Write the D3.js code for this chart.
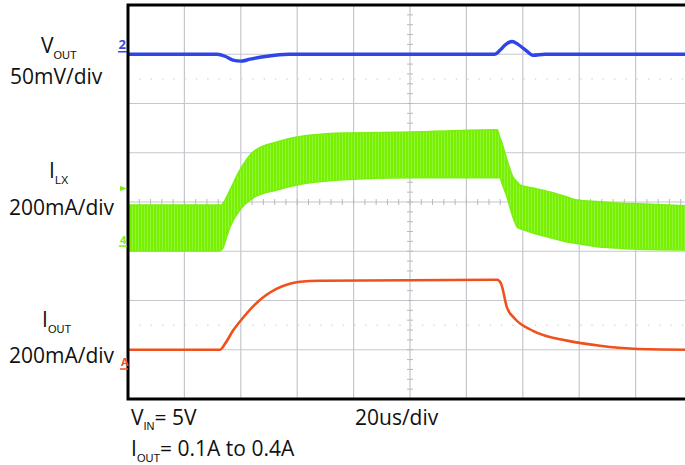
<!DOCTYPE html>
<html><head><meta charset="utf-8">
<script src="https://cdn.jsdelivr.net/npm/d3@7/dist/d3.min.js"></script>
<style>
html,body{margin:0;padding:0;background:#fff;}
svg{display:block;}
text{font-family:"Open Sans",sans-serif;fill:#111;}
</style></head>
<body>
<svg id="chart" width="685" height="465"></svg>
<script>
// ---- data (time in us, 20us/div) ----
const vOutT  = [-100,-68.4,-65.6,-62.8,-59.9,-56.7,-53.2,-47.9,-42.6,30.1,31.9,34,36.2,38.3,41.1,43.6,47.9,100];
const vOutMv = [0,0,-2,-6,-7,-5,-3,-1,0,0,4,10,13,10,4,-1,0,0];           // deviation, 50mV/div

const lxTopT  = [-100,-66.7,-65.6,-60.3,-55.7,-47.2,-40.1,-23.8,0,30.9,32.6,34.4,36.5,39,43.6,49.6,59.2,73.4,100];
const lxTopMa = [134,134,154,276,349,390,410,426,430,439,386,317,248,215,203,187,154,142,130];
const lxBotT  = [-100,-67.4,-66.3,-63.8,-60.3,-55.7,-47.2,-40.1,-23.8,0,31.9,34.4,36.5,38.3,43.6,55.7,67.4,79.1,100];
const lxBotMa = [-53,-53,-41,45,114,162,195,215,236,244,244,166,85,41,20,-16,-37,-45,-49];   // 200mA/div

const iOutT  = [-100,-67.4,-65.6,-62.8,-59.2,-54.3,-47.2,-42.6,-39,-31.9,30.9,32.3,34.4,37.2,43.6,55.7,67.4,79.1,100];
const iOutMa = [100,100,124,177,230,291,348,368,376,380,384,368,271,226,177,137,116,104,100]; // 200mA/div

const timeDivs = [-100,-80,-60,-40,-20,0,20,40,60,80,100];
const ampDivs  = [-4,-3,-2,-1,0,1,2,3,4];

// channel offsets (divisions)
const vOutOffset = 3, lxOffset = -0.73, iOutOffset = -3.5;

const svg = d3.select("#chart");
const x = d3.scaleLinear().domain([-100,100]).range([128,692]);
const y = d3.scaleLinear().domain([-4,4]).range([399,5]);

// grid
const g = svg.append("g");
g.selectAll(".vg").data(timeDivs.slice(1,-1)).join("line")
  .attr("x1",d=>x(d)).attr("x2",d=>x(d)).attr("y1",y(4)).attr("y2",y(-4))
  .attr("stroke","#c6c6cc").attr("stroke-width",1.2);
g.selectAll(".hg").data(ampDivs.slice(1,-1)).join("line")
  .attr("x1",x(-100)).attr("x2",x(100)).attr("y1",d=>y(d)).attr("y2",d=>y(d))
  .attr("stroke","#c6c6cc").attr("stroke-width",1.2);
// dotted half lines
[2.5,-2.5].forEach(v=>{
  g.append("line").attr("x1",x(-100)).attr("x2",x(100)).attr("y1",y(v)).attr("y2",y(v))
   .attr("stroke","#dcdce0").attr("stroke-width",1.5).attr("stroke-dasharray","1.5,9.8");
});
// center minor ticks
const minorT = d3.range(-100,100.01,4);
g.selectAll(".mt").data(minorT).join("line")
  .attr("x1",d=>x(d)).attr("x2",d=>x(d)).attr("y1",y(0)-3).attr("y2",y(0)+3)
  .attr("stroke","#b8b8c0").attr("stroke-width",1);
const minorV = d3.range(-4,4.01,0.2);
g.selectAll(".mv").data(minorV).join("line")
  .attr("y1",d=>y(d)).attr("y2",d=>y(d)).attr("x1",x(0)-3).attr("x2",x(0)+3)
  .attr("stroke","#b8b8c0").attr("stroke-width",1);

// I_LX band
const defs = svg.append("defs");
const pat = defs.append("pattern").attr("id","sw").attr("patternUnits","userSpaceOnUse")
  .attr("width",3).attr("height",6);
pat.append("rect").attr("width",3).attr("height",6).attr("fill","#78f000");
pat.append("rect").attr("width",1).attr("height",6).attr("fill","#8ef53a");

const lxBot = d3.scaleLinear().domain(lxBotT).range(lxBotMa);
const topS = d3.scaleLinear().domain(lxTopT).range(lxTopMa);
const lxArea = d3.area().x(d=>x(d.t))
  .y0(d=>y(lxOffset + lxBot(d.t)/200)).y1(d=>y(lxOffset + d.v/200))
  .curve(d3.curveMonotoneX);
const allT = Array.from(new Set(lxTopT.concat(lxBotT))).sort((a,b)=>a-b);
svg.append("path").datum(allT.map(t=>({t, v:topS(t)})))
  .attr("d",lxArea).attr("fill","url(#sw)").attr("stroke","#7af010").attr("stroke-width",1.5);

// V_OUT trace
const line = d3.line().curve(d3.curveMonotoneX);
svg.append("path").datum(vOutT.map((t,i)=>[x(t), y(vOutOffset + vOutMv[i]/50)]))
  .attr("d",line).attr("fill","none").attr("stroke","#2f45e8").attr("stroke-width",3.4);

// I_OUT trace
svg.append("path").datum(iOutT.map((t,i)=>[x(t), y(iOutOffset + iOutMa[i]/200)]))
  .attr("d",line).attr("fill","none").attr("stroke","#f0501c").attr("stroke-width",2.6);

// border
svg.append("path").attr("d",`M${x(100)+5},${y(4)} H${x(-100)} V${y(-4)} H${x(100)+5}`)
  .attr("fill","none").attr("stroke","#000").attr("stroke-width",3);

// channel markers
svg.append("text").attr("x",118.5).attr("y",y(vOutOffset)-5).attr("font-size",13).attr("font-weight","bold")
  .style("fill","#3848e0").text("2");
svg.append("line").attr("x1",118).attr("x2",127).attr("y1",y(vOutOffset)-2.5).attr("y2",y(vOutOffset)-2.5)
  .attr("stroke","#3848e0").attr("stroke-width",1.5);
svg.append("path").attr("d","M120,186 L127,188.5 L120,191 Z").attr("fill","#7af010");
svg.append("text").attr("x",120).attr("y",244).attr("font-size",11).attr("font-weight","bold")
  .style("fill","#7af010").text("4");
svg.append("line").attr("x1",119).attr("x2",127).attr("y1",246).attr("y2",246)
  .attr("stroke","#7af010").attr("stroke-width",1.5);
svg.append("text").attr("x",121).attr("y",366).attr("font-size",11).attr("font-weight","bold")
  .style("fill","#f0501c").text("A");
svg.append("line").attr("x1",120).attr("x2",128).attr("y1",369).attr("y2",369)
  .attr("stroke","#f0501c").attr("stroke-width",1.5);

// labels
function lbl(xp, yp, main, sub, rest, size, subDy){
  const t = svg.append("text").attr("x",xp).attr("y",yp).attr("font-size",size);
  t.append("tspan").text(main);
  t.append("tspan").attr("font-size",11).attr("dy",subDy)
    .style("font-family","'Liberation Sans',sans-serif").text(sub);
  if(rest) t.append("tspan").attr("dy",-subDy).text(rest);
  return t;
}
lbl(41,53,"V","OUT",null,21,6);
svg.append("text").attr("x",10).attr("y",84).attr("font-size",21).text("50mV/div");
lbl(49,178,"I","LX",null,21,6);
svg.append("text").attr("x",9).attr("y",215).attr("font-size",21).text("200mA/div");
lbl(42,327,"I","OUT",null,21,6);
svg.append("text").attr("x",9).attr("y",363).attr("font-size",21).text("200mA/div");

lbl(131,425,"V","IN","= 5V",21,5);
lbl(131,456,"I","OUT","= 0.1A to 0.4A",21,6);
svg.append("text").attr("x",355).attr("y",425).attr("font-size",21).text("20us/div");
</script>
</body></html>
